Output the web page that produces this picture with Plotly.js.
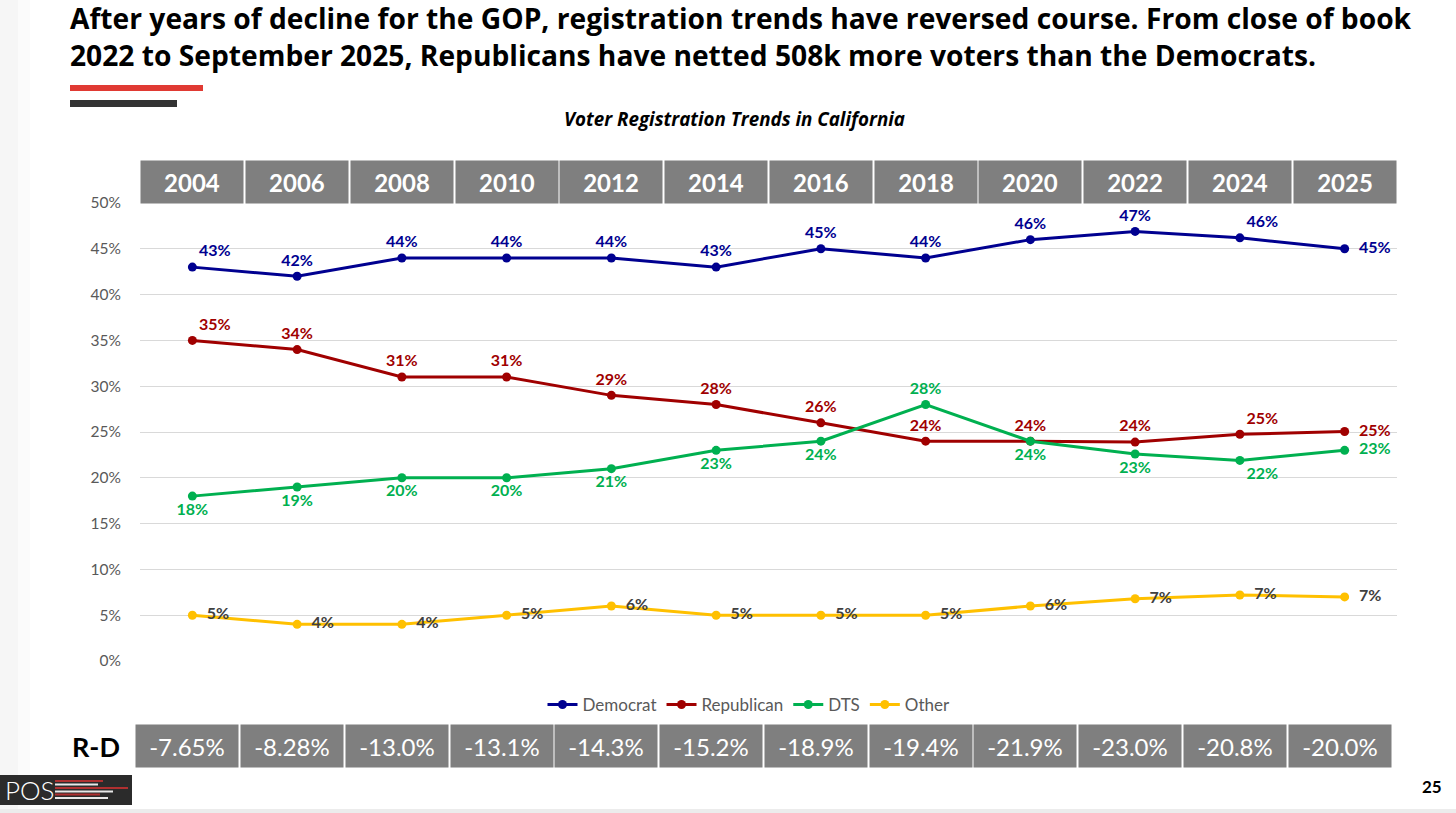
<!DOCTYPE html>
<html>
<head>
<meta charset="utf-8">
<script src="https://cdn.plot.ly/plotly-3.0.1.min.js"></script>
<style>html,body{margin:0;padding:0;background:#fff;}#chart{width:1456px;height:813px;}</style>
</head>
<body>
<div id="chart"></div>
<script>
const years = ['2004','2006','2008','2010','2012','2014','2016','2018','2020','2022','2024','2025'];
const democrat   = [43, 42, 44, 44, 44, 43, 45, 44, 46, 46.9, 46.2, 45.0];
const republican = [35, 34, 31, 31, 29, 28, 26, 24, 24, 23.9, 24.75, 25.05];
const dts        = [18, 19, 20, 20, 21, 23, 24, 28, 24, 22.6, 21.9, 23.0];
const other      = [5, 4, 4, 5, 6, 5, 5, 5, 6, 6.8, 7.2, 7.0];
const rdLabels   = ['-7.65%','-8.28%','-13.0%','-13.1%','-14.3%','-15.2%','-18.9%','-19.4%','-21.9%','-23.0%','-20.8%','-20.0%'];
const yTicks     = [0,5,10,15,20,25,30,35,40,45,50];

const FONT = 'Lato, "Open Sans", sans-serif';
const WFONT = '"Open Sans", Lato, sans-serif';
const L = 140, R = 1397, T = 203, B = 661;
const PX = x => (x - L) / (R - L);
const PY = y => (B - y) / (B - T);

const xs = years.map((_, i) => i);

function series(name, vals, color, labelColor, pos) {
  return {
    type: 'scatter', mode: 'lines+markers+text', name: name,
    x: xs, y: vals,
    line: {color: color, width: 3},
    marker: {color: color, size: 9},
    texttemplate: pos.map(p => (p === 'middle right' ? '  ' : '') + '%{y:.0f}%'),
    textposition: pos,
    textfont: {family: FONT, size: 16, color: labelColor, weight: 700},
    cliponaxis: false,
    hoverinfo: 'skip'
  };
}

const tc = 'top center', tr = 'top right', mr = 'middle right', bc = 'bottom center', br = 'bottom right';
const data = [
  series('Democrat', democrat, '#000090', '#000090', [tr,tc,tc,tc,tc,tc,tc,tc,tc,tc,tr,mr]),
  series('Republican', republican, '#a00000', '#a00000', [tr,tc,tc,tc,tc,tc,tc,tc,tc,tc,tr,mr]),
  series('DTS', dts, '#00b050', '#00b050', [bc,bc,bc,bc,bc,bc,bc,tc,bc,bc,br,mr]),
  series('Other', other, '#ffc000', '#404040', [mr,mr,mr,mr,mr,mr,mr,mr,mr,mr,mr,mr])
];

const annotations = [];
// subtitle
annotations.push({xref:'paper', yref:'paper', x: PX(734), y: PY(119), xanchor:'center', yanchor:'middle',
  text:'Voter Registration Trends in California', showarrow:false,
  font:{family:WFONT, size:18.8, color:'#000', weight:700, style:'italic'}});
// header years
years.forEach((yr, i) => {
  annotations.push({xref:'x', yref:'paper', x:i, y:PY(182), xanchor:'center', yanchor:'middle',
    text: yr, showarrow:false, width:102, height:42, bgcolor:'#7f7f7f', borderpad:0,
    font:{family:FONT, size:24, color:'#fff', weight:700}});
});
// R-D row
rdLabels.forEach((t, i) => {
  annotations.push({xref:'x', yref:'paper', x:i, xshift:-5, y:PY(746), xanchor:'center', yanchor:'middle',
    text: t, showarrow:false, width:102, height:42, bgcolor:'#7f7f7f', borderpad:0,
    font:{family:FONT, size:24, color:'#fff'}});
});
annotations.push({xref:'paper', yref:'paper', x: PX(96), y: PY(746), xanchor:'center', yanchor:'middle',
  text:'R-D', showarrow:false, font:{family:FONT, size:27, color:'#000', weight:700}});
annotations.push({xref:'paper', yref:'paper', x: PX(1432), y: PY(786), xanchor:'center', yanchor:'middle',
  text:'25', showarrow:false, font:{family:FONT, size:17, color:'#000', weight:700}});
annotations.push({xref:'paper', yref:'paper', x: PX(3), y: PY(790), xanchor:'left', yanchor:'middle',
  text:'POS', showarrow:false, font:{family:FONT, size:26, color:'#fff', weight:300}});

const shapes = [];
function rect(x0,y0,x1,y1,color){
  shapes.push({type:'rect', xref:'paper', yref:'paper', x0:PX(x0), x1:PX(x1), y0:PY(y0), y1:PY(y1),
    fillcolor:color, line:{width:0}, layer:'below'});
}
// faint left edge shading
rect(0,0,18,813,'#f6f6f6');
rect(18,0,30,813,'#fbfbfb');
// accent bars under title
rect(70,85,203,91,'#e03a33');
rect(70,100,177,107,'#333333');
// bottom strip
rect(0,809,1456,813,'#ececec');
// logo
rect(0,775,132,805,'#2b2b2b');
function line(x0,x1,y,color,w){
  shapes.push({type:'line', xref:'paper', yref:'paper', x0:PX(x0), x1:PX(x1), y0:PY(y), y1:PY(y),
    line:{color:color, width:w}, layer:'above'});
}
line(55,103,781,'#b03030',2);
line(55,98,784.5,'#e8e8e8',2);
line(55,128,788,'#b03030',2);
line(55,113,791.5,'#e8e8e8',2);
line(55,100,794.5,'#b03030',2);
line(55,108,798,'#e8e8e8',2);

const layout = {
  width:1456, height:813,
  margin:{l:L, r:1456-R, t:T, b:813-B, pad:0},
  paper_bgcolor:'#ffffff', plot_bgcolor:'#ffffff',
  font:{family:FONT, color:'#595959'},
  title:{
    text:'After years of decline for the GOP, registration trends have reversed course. From close of book<br>2022 to September 2025, Republicans have netted 508k more voters than the Democrats.',
    xref:'container', yref:'container', x:70/1456, xanchor:'left', y:1-29/813, yanchor:'top',
    font:{family:WFONT, size:28.2, color:'#000', weight:700}
  },
  xaxis:{range:[-0.5, 11.5], showgrid:false, zeroline:false, showticklabels:false, showline:false, fixedrange:true},
  yaxis:{range:[0,50], tickvals:yTicks, ticktext:yTicks.map(v=>v+'%'), showgrid:true, gridcolor:'#d9d9d9', gridwidth:1,
    zeroline:false, showline:false, ticks:'', ticklabelstandoff:18,
    tickfont:{family:FONT, size:15.5, color:'#595959'}, fixedrange:true},
  showlegend:true,
  legend:{orientation:'h', x:PX(749), xanchor:'center', y:PY(705), yanchor:'middle',
    font:{family:FONT, size:17, color:'#595959'}, itemwidth:30, bgcolor:'rgba(0,0,0,0)'},
  annotations: annotations,
  shapes: shapes
};

Plotly.newPlot('chart', data, layout, {displayModeBar:false, staticPlot:true});
</script>
</body>
</html>
